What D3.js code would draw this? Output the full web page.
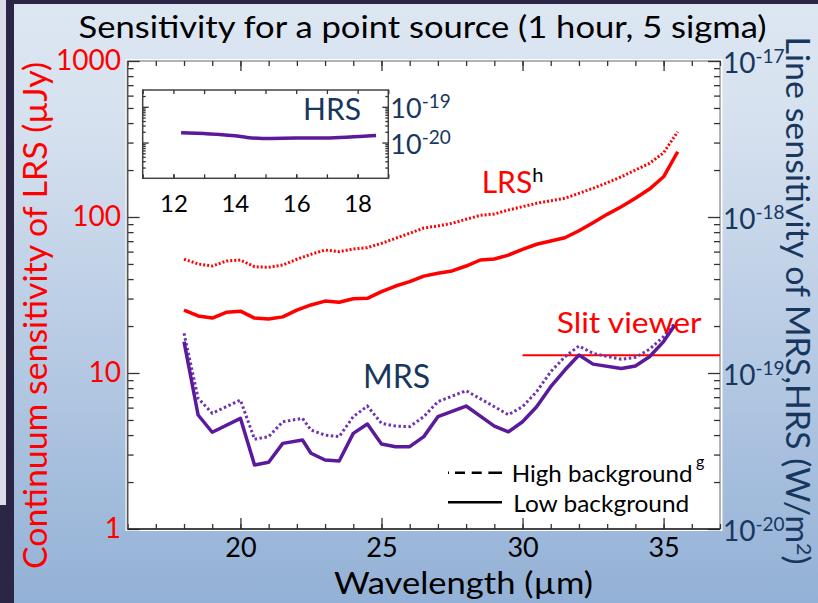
<!DOCTYPE html>
<html>
<head>
<meta charset="utf-8">
<script src="https://cdn.jsdelivr.net/npm/d3@7"></script>
<style>
body{margin:0;background:#fff}
svg{display:block;font-family:Lato,"Open Sans",sans-serif}
</style>
</head>
<body>
<script>
////Data
//LRS continuum sensitivity (uJy), low and high background
var lrsWave = [18,18.5,19,19.5,20,20.5,21,21.5,22,22.5,23,23.5,24,24.5,25,25.5,26,26.5,27,27.5,28,28.5,29,29.5,30,30.5,31,31.5,32,32.5,33,33.5,34,34.5,35,35.5]
var lrsLow = [25.3,23.2,22.5,24.5,24.9,22.5,22.2,22.9,25.3,27.3,28.9,28.4,29.9,30.1,33.2,36.1,38.5,41.8,43.6,45.1,48.5,53,53.8,57,62,66.9,70.2,73.6,81.6,91.9,104,116.4,131.8,151,181,262]
var lrsHigh = [53.6,50,48.5,52.2,53,48,47.6,49.2,53.6,57.7,61.4,59.9,62.4,63.6,67.8,73,78.6,85,87.6,91.1,96.7,102.5,104.5,110.9,116.5,122.4,127.1,131.8,141.9,152.8,166,181,200,220.6,258,352]

//MRS line sensitivity (W/m2), low and high background
var mrsWave = [18,18.5,19,20,20.5,21,21.5,22.2,22.5,23,23.5,24,24.5,25,25.5,26,26.5,27,28,29,29.5,30,30.5,31,31.5,32,32.5,33.5,34,34.5,35,35.4]
var mrsLow = [1.59e-19,5.38e-20,4.17e-20,5.12e-20,2.57e-20,2.68e-20,3.54e-20,3.72e-20,3.06e-20,2.77e-20,2.73e-20,4.1e-20,4.71e-20,3.51e-20,3.37e-20,3.37e-20,3.91e-20,5.25e-20,6.14e-20,4.57e-20,4.2e-20,4.87e-20,6.08e-20,8.17e-20,1.045e-19,1.304e-19,1.14e-19,1.07e-19,1.11e-19,1.27e-19,1.59e-19,2.03e-19]
var mrsHigh = [1.797e-19,6.88e-20,5.52e-20,6.71e-20,3.76e-20,3.91e-20,4.87e-20,5.12e-20,4.31e-20,4.0e-20,3.91e-20,5.25e-20,6.14e-20,4.76e-20,4.57e-20,4.53e-20,5.25e-20,6.55e-20,7.7e-20,6.08e-20,5.4e-20,6.08e-20,7.59e-20,1.02e-19,1.27e-19,1.49e-19,1.337e-19,1.224e-19,1.26e-19,1.42e-19,1.71e-19,2.08e-19]

//HRS line sensitivity in the inset (W/m2)
var hrsWave = [12.25,13,13.5,14,14.4,14.9,16,17.1,18.2,18.6]
var hrsLow = [1.88e-20,1.78e-20,1.69e-20,1.55e-20,1.39e-20,1.30e-20,1.33e-20,1.35e-20,1.51e-20,1.58e-20]

//Slit viewer level (uJy)
var slitWave = [30,37]
var slitFlux = [13,13]

//Tick values
var xMajor = [20,25,30,35]
var fluxMajor = [1,10,100,1000]
var lineMajor = [1e-20,1e-19,1e-18,1e-17]
var hrsXMajor = [12,14,16,18]
var hrsYMajor = [1e-20,1e-19]

////Colours
var red = "#ff0000"
var navy = "#17375e"
var purple = "#5b1a9b"
var purpleLight = "#6e35b0"

////Creating the svg
var svg = d3.select("body").append("svg").attr("width",818).attr("height",603)

///Slide background
var grad = svg.append("defs").append("linearGradient").attr("id","bg")
    .attr("x1",0).attr("y1",0).attr("x2",0).attr("y2",1)
grad.append("stop").attr("offset","0%").attr("stop-color","#dde7f2")
grad.append("stop").attr("offset","20%").attr("stop-color","#d6e1ef")
grad.append("stop").attr("offset","100%").attr("stop-color","#93b1d6")

svg.append("rect").attr("width",818).attr("height",603).attr("fill","#2b2646") //dark space behind the slide
svg.append("rect").attr("x",0).attr("y",0).attr("width",6).attr("height",505).attr("fill","#dcdce9")
svg.append("rect").attr("x",14).attr("y",4).attr("width",804).attr("height",599).attr("fill","url(#bg)")

////Scales
var x = d3.scaleLinear().domain([16,37]).range([127.6,720])
var yFlux = d3.scaleLog().domain([1,1000]).range([529,61])
var yLine = d3.scaleLog().domain([1e-20,1e-17]).range([529,61])

var xIn = d3.scaleLinear().domain([11,19]).range([142.7,388.3])
var yIn = d3.scaleLog().domain([1e-21,2.95e-19]).range([178.3,90])

///Plot area
svg.append("rect").attr("x",125.5).attr("y",59).attr("width",597).attr("height",472).attr("fill","#fff")
svg.append("rect").attr("x",x(16)).attr("y",yFlux(1000)).attr("width",x(37)-x(16)).attr("height",yFlux(1)-yFlux(1000))
    .attr("fill","#fff").attr("stroke","#9a9a9a").attr("stroke-width",1.5)

//Helper to style an axis group
function styleAxis(g,col,fs){
    g.select(".domain").remove()
    g.selectAll(".tick line").attr("stroke","#333").attr("stroke-width",1.3)
    g.selectAll(".tick text").attr("fill",col).attr("font-size",fs).attr("font-family","Lato,'Open Sans',sans-serif")
}

//Minor ticks
var xMinor = x.ticks(21)
var fluxMinor = yFlux.ticks().filter(function(d){return fluxMajor.indexOf(d)<0})
var lineMinor = yLine.ticks().filter(function(d){return Math.abs(Math.log10(d)-Math.round(Math.log10(d)))>1e-6})

svg.append("g").attr("transform","translate(0,529)")
    .call(d3.axisBottom(x).tickValues(xMinor).tickSize(-5).tickFormat("")).call(styleAxis,"#000",27)
svg.append("g").attr("transform","translate(0,529)")
    .call(d3.axisBottom(x).tickValues(xMajor).tickSize(-11).tickPadding(8.8)).call(styleAxis,"#000",27)
svg.append("g").attr("transform","translate(0,61)")
    .call(d3.axisTop(x).tickValues(xMinor).tickSize(-5).tickFormat("")).call(styleAxis,"#000",27)
svg.append("g").attr("transform","translate(0,61)")
    .call(d3.axisTop(x).tickValues(xMajor).tickSize(-10).tickFormat("")).call(styleAxis,"#000",27)

svg.append("g").attr("transform","translate(127.6,0)")
    .call(d3.axisLeft(yFlux).tickValues(fluxMinor).tickSize(-6).tickFormat("")).call(styleAxis,red,27)
svg.append("g").attr("transform","translate(127.6,0)")
    .call(d3.axisLeft(yFlux).tickValues(fluxMajor).tickSize(-12).tickPadding(6.6).tickFormat(d3.format("d")))
    .call(styleAxis,red,28)

svg.append("g").attr("transform","translate(720,0)")
    .call(d3.axisRight(yLine).tickValues(lineMinor).tickSize(-6).tickFormat("")).call(styleAxis,navy,27)
var rightAxis = svg.append("g").attr("transform","translate(720,0)")
    .call(d3.axisRight(yLine).tickValues(lineMajor).tickSize(-12).tickPadding(3))
    .call(styleAxis,navy,28)

//Power of ten labels with superscripts
function powLabels(g,supSize){
    g.selectAll(".tick text").each(function(d){
        var t = d3.select(this)
        var e = Math.round(Math.log10(d))
        t.text(null).attr("dy",11).attr("text-anchor","start")
        t.append("tspan").text("10")
        t.append("tspan").attr("dy",-10).attr("font-size",supSize).text(e)
    })
}
rightAxis.call(powLabels,19)

//Left and bottom axis lines drawn darker
svg.append("line").attr("x1",x(16)).attr("x2",x(16)).attr("y1",yFlux(1000)).attr("y2",yFlux(1)).attr("stroke","#555").attr("stroke-width",1.5)
svg.append("line").attr("x1",x(16)).attr("x2",x(37)).attr("y1",yFlux(1)).attr("y2",yFlux(1)).attr("stroke","#222").attr("stroke-width",1.5)

////Curves
var fluxLine = d3.line().x(function(d){return x(d[0])}).y(function(d){return yFlux(d[1])})
var lineLine = d3.line().x(function(d){return x(d[0])}).y(function(d){return yLine(d[1])})

svg.append("path").datum(d3.zip(lrsWave,lrsHigh)).attr("d",fluxLine)
    .attr("fill","none").attr("stroke",red).attr("stroke-width",3).attr("stroke-dasharray","2,2")
svg.append("path").datum(d3.zip(lrsWave,lrsLow)).attr("d",fluxLine)
    .attr("fill","none").attr("stroke",red).attr("stroke-width",3.5).attr("stroke-linejoin","round")

svg.append("path").datum(d3.zip(slitWave,slitFlux)).attr("d",fluxLine)
    .attr("fill","none").attr("stroke",red).attr("stroke-width",2)

svg.append("path").datum(d3.zip(mrsWave,mrsHigh)).attr("d",lineLine)
    .attr("fill","none").attr("stroke",purpleLight).attr("stroke-width",3).attr("stroke-dasharray","2.5,2.5")
svg.append("path").datum(d3.zip(mrsWave,mrsLow)).attr("d",lineLine)
    .attr("fill","none").attr("stroke",purple).attr("stroke-width",3.5).attr("stroke-linejoin","round")

////Inset with HRS
svg.append("rect").attr("x",xIn(11)).attr("y",yIn.range()[1]).attr("width",xIn(19)-xIn(11)).attr("height",yIn.range()[0]-yIn.range()[1])
    .attr("fill","#fff").attr("stroke","#444").attr("stroke-width",1.5)

var inXMinor = xIn.ticks(8)
var inYMinor = yIn.ticks().filter(function(d){return Math.abs(Math.log10(d)-Math.round(Math.log10(d)))>1e-6})

svg.append("g").attr("transform","translate(0,178.3)")
    .call(d3.axisBottom(xIn).tickValues(inXMinor).tickSize(-4).tickFormat("")).call(styleAxis,"#000",24)
svg.append("g").attr("transform","translate(0,178.3)")
    .call(d3.axisBottom(xIn).tickValues(hrsXMajor).tickSize(-4).tickPadding(16.4)).call(styleAxis,"#000",24)
svg.append("g").attr("transform","translate(0,90)")
    .call(d3.axisTop(xIn).tickValues(inXMinor).tickSize(-4).tickFormat("")).call(styleAxis,"#000",24)
svg.append("g").attr("transform","translate(142.7,0)")
    .call(d3.axisLeft(yIn).tickValues(inYMinor).tickSize(-3).tickFormat("")).call(styleAxis,"#000",24)
svg.append("g").attr("transform","translate(142.7,0)")
    .call(d3.axisLeft(yIn).tickValues(hrsYMajor).tickSize(-6).tickFormat("")).call(styleAxis,"#000",24)
svg.append("g").attr("transform","translate(388.3,0)")
    .call(d3.axisRight(yIn).tickValues(inYMinor).tickSize(-3).tickFormat("")).call(styleAxis,navy,26)
svg.append("g").attr("transform","translate(388.3,0)")
    .call(d3.axisRight(yIn).tickValues(hrsYMajor).tickSize(-6).tickPadding(2)).call(styleAxis,navy,27)
    .call(powLabels,19)

svg.append("path").datum(d3.zip(hrsWave,hrsLow))
    .attr("d",d3.line().curve(d3.curveMonotoneX).x(function(d){return xIn(d[0])}).y(function(d){return yIn(d[1])}))
    .attr("fill","none").attr("stroke",purple).attr("stroke-width",3.5)

////Texts
//Title
svg.append("text").attr("x",422.5).attr("y",37.5).attr("text-anchor","middle")
    .attr("font-size",31).attr("fill","#000").attr("textLength",688).attr("lengthAdjust","spacingAndGlyphs")
    .text("Sensitivity for a point source (1 hour, 5 sigma)")

//Axis titles
svg.append("text").attr("transform","translate(46.5,315.5) rotate(-90)").attr("text-anchor","middle")
    .attr("font-size",32).attr("fill",red).attr("textLength",507).attr("lengthAdjust","spacingAndGlyphs")
    .text("Continuum sensitivity of LRS (\u00b5Jy)")

var rTitle = svg.append("text").attr("transform","translate(786,300.5) rotate(90)").attr("text-anchor","middle")
    .attr("font-size",32).attr("fill",navy).attr("textLength",528).attr("lengthAdjust","spacingAndGlyphs")
rTitle.append("tspan").text("Line sensitivity of MRS,HRS (W/m")
rTitle.append("tspan").attr("dy",-11).attr("font-size",20).text("2")
rTitle.append("tspan").attr("dy",11).text(")")

svg.append("text").attr("x",463.5).attr("y",594).attr("text-anchor","middle")
    .attr("font-size",30).attr("fill","#000").attr("textLength",259).attr("lengthAdjust","spacingAndGlyphs")
    .text("Wavelength (\u00b5m)")

//Curve labels
var lrsLabel = svg.append("text").attr("x",481.7).attr("y",193.3).attr("font-size",30).attr("fill",red)
lrsLabel.append("tspan").text("LRS")
lrsLabel.append("tspan").attr("dy",-11).attr("font-size",20).attr("fill","#000").text("h")

svg.append("text").attr("x",363).attr("y",388.3).attr("font-size",32).attr("fill",navy).text("MRS")
svg.append("text").attr("x",303).attr("y",120).attr("font-size",30).attr("fill",navy).text("HRS")

svg.append("text").attr("x",556.7).attr("y",333.3).attr("font-size",28).attr("fill",red)
    .attr("textLength",145).attr("lengthAdjust","spacingAndGlyphs").text("Slit viewer")

////Legend
svg.append("line").attr("x1",448).attr("x2",502).attr("y1",472.7).attr("y2",472.7)
    .attr("stroke","#000").attr("stroke-width",2.5).attr("stroke-dasharray","1,6,10,6.7,10,6.7,14")
svg.append("line").attr("x1",448).attr("x2",502).attr("y1",502.3).attr("y2",502.3)
    .attr("stroke","#000").attr("stroke-width",2.5)

svg.append("text").attr("x",511.7).attr("y",481.7).attr("font-size",22.5).attr("fill","#000")
    .attr("textLength",181).attr("lengthAdjust","spacingAndGlyphs").text("High background")
svg.append("text").attr("x",696).attr("y",467).attr("font-size",16).attr("fill","#000").text("g")
svg.append("text").attr("x",513.3).attr("y",511.7).attr("font-size",22.5).attr("fill","#000")
    .attr("textLength",176).attr("lengthAdjust","spacingAndGlyphs").text("Low background")
</script>
</body>
</html>
